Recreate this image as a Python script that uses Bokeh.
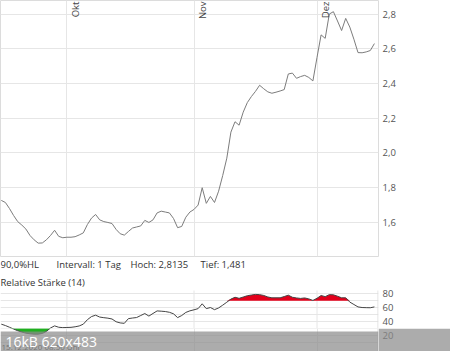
import numpy as np
import pandas as pd
from bokeh.plotting import figure
from bokeh.layouts import column
from bokeh.models import (Range1d, FixedTicker, CustomJSTickFormatter, Label,
                          BoxAnnotation)
from bokeh.core.properties import value
from bokeh.embed import file_html
from bokeh.resources import INLINE

# ---------------- data ----------------
dates = pd.date_range("2020-09-15", "2020-12-15", freq="D")

price = [
    1.727, 1.715, 1.68, 1.64, 1.605, 1.585, 1.562, 1.525, 1.50, 1.481,
    1.482, 1.50, 1.525, 1.555, 1.52, 1.512, 1.515, 1.515, 1.518, 1.528,
    1.54, 1.588, 1.625, 1.646, 1.615, 1.605, 1.60, 1.594, 1.56, 1.535,
    1.527, 1.548, 1.568, 1.574, 1.58, 1.612, 1.60, 1.615, 1.655, 1.665,
    1.66, 1.655, 1.623, 1.57, 1.577, 1.63, 1.66, 1.675, 1.70, 1.80,
    1.71, 1.75, 1.715, 1.78, 1.87, 1.97, 2.12, 2.18, 2.16, 2.235,
    2.29, 2.325, 2.355, 2.39, 2.37, 2.352, 2.344, 2.35, 2.357, 2.365,
    2.455, 2.46, 2.43, 2.44, 2.447, 2.435, 2.415, 2.55, 2.68, 2.66,
    2.80, 2.8135, 2.76, 2.705, 2.775, 2.725, 2.655, 2.578, 2.577, 2.582,
    2.59, 2.63,
]

rsi = [
    36, 34, 31.5, 28.9, 26.5, 24.5, 23, 22, 21.5, 21.5,
    22.5, 25.5, 30.5, 33.5, 31.5, 31, 31.2, 31.4, 32.2, 33.4,
    36, 42.5, 47, 49, 46.3, 45.4, 44.7, 43.5, 39.5, 37.8,
    37.2, 44.0, 44.9, 45.6, 48.5, 51.4, 47.7, 51.5, 55.2, 54.8,
    54.3, 53.2, 51, 45.5, 48.5, 53, 55.3, 56.8, 58.5, 65.5,
    58.5, 60.1, 57, 59.5, 63.5, 67.8, 72.3, 75.0, 73.4, 75.3,
    77.2, 78.2, 79.1, 78.8, 77.6, 75.4, 74.2, 74.2, 74.2, 76,
    78, 75, 74, 73.3, 74, 72.6, 70.4, 73.5, 77.5, 75.9,
    78.8, 78.5, 76.5, 74.2, 74.2, 68, 64.5, 61.0, 60.1, 59.9,
    59.8, 61,
]

month_starts = pd.to_datetime(["2020-10-01", "2020-11-01", "2020-12-01"])
month_labels = ["Okt", "Nov", "Dez"]
price_ticks = [1.6, 1.8, 2.0, 2.2, 2.4, 2.6, 2.8]
rsi_ticks = [20, 40, 60, 80]
rsi_grid_ticks = [10, 20, 30, 40, 50, 60, 70, 80]
rsi_upper, rsi_lower = 70, 30
info_texts = ["90,0%HL", "Intervall: 1 Tag", "Hoch: 2,8135", "Tief: 1,481"]
rsi_title = "Relative Stärke (14)"
stamp_text = "15.12.2020 08:50 Uhr"
size_text = "16kB 620x483"

# ---------------- layout constants (canvas pixels) ----------------
W = 450
FRAME_W = 378
A_H = 257            # price panel 0..257
T_H = 15             # info line 257..272
B_H = 56             # rsi panel 272..328
C_H = 23             # lower strip incl. overlay bar 328..351
B_Y0 = A_H + T_H     # 272
C_Y0 = B_Y0 + B_H    # 328
BAR_TOP_PX = 331
RSI_PANEL_TOP_PX = 290
Y80_PX = 293.3
RSI_PER_PX = 60 / 41.4

X0 = pd.Timestamp("2020-09-15") - pd.Timedelta(hours=4.7)
X1 = pd.Timestamp("2020-12-16")
PY0, PY1 = 1.404, 2.878

FONT = "Open Sans"
GRID = "#e6e6e6"
OUTLINE = "#dcdcdc"
TICK_COLOR = "#555555"
BAR_COLOR, BAR_ALPHA = "#8c8c8c", 0.72
BAR_BLEND = "#acacac"

x_ms0 = X0.value / 1e6
x_ms1 = X1.value / 1e6


def x_at(px):
    return x_ms0 + px / FRAME_W * (x_ms1 - x_ms0)


def rsi_y_at(py):
    return 80 - (py - Y80_PX) * RSI_PER_PX


xr = Range1d(start=x_ms0, end=x_ms1)
month_ms = [t.value / 1e6 for t in month_starts]
comma_fmt = CustomJSTickFormatter(code="return tick.toFixed(1).replace('.', ',');")


def base_fig(height, y_range, axis):
    f = figure(width=W, height=height, x_axis_type="datetime", x_range=xr,
               y_range=y_range, y_axis_location="right" if axis else None,
               x_axis_location=None, toolbar_location=None, output_backend="svg",
               min_border_left=0, min_border_right=W - FRAME_W,
               min_border_top=0, min_border_bottom=0)
    f.outline_line_color = None
    if axis:
        a = f.yaxis[0]
        a.axis_line_color = None
        a.major_tick_line_color = None
        a.minor_tick_line_color = None
        a.major_tick_out = 0
        a.major_tick_in = 0
        a.major_label_standoff = 4
        a.major_label_text_font = FONT
        a.major_label_text_font_size = "9.5px"
        a.major_label_text_color = TICK_COLOR
    for g in f.grid:
        g.grid_line_color = GRID
        g.grid_line_width = 1
    return f


# ---------------- price panel ----------------
pa = base_fig(A_H, Range1d(PY0, PY1), True)
pa.min_border_bottom = 1
pa.outline_line_color = OUTLINE
pa.xgrid.ticker = FixedTicker(ticks=month_ms)
pa.ygrid.ticker = FixedTicker(ticks=price_ticks)
pa.yaxis[0].ticker = FixedTicker(ticks=price_ticks)
pa.yaxis[0].formatter = comma_fmt

pa.line(dates, price, line_color="#7c7c7c", line_width=1)
pa.text(x=month_starts, y=[PY1] * len(month_starts), text=month_labels,
        angle=np.pi / 2, text_align="right", text_baseline="top",
        x_offset=2, y_offset=1, text_font=value(FONT),
        text_font_size="9.5px", text_color="#444444")

# ---------------- info line ----------------
pt = base_fig(T_H, Range1d(0, T_H), False)
pt.xgrid.visible = False
pt.ygrid.visible = False
info_px = [0, 56, 130, 200]
for txt, px in zip(info_texts, info_px):
    pt.add_layout(Label(x=x_at(px), y=B_Y0 - 263.5, text=txt,
                        text_align="left", text_baseline="middle",
                        text_font=FONT, text_font_size="9.5px",
                        text_color="#333333"))

# ---------------- rsi panel ----------------
pb = base_fig(B_H, Range1d(rsi_y_at(C_Y0), rsi_y_at(B_Y0)), True)
pb.xgrid.visible = False
pb.ygrid.ticker = FixedTicker(ticks=rsi_grid_ticks)
pb.yaxis[0].ticker = FixedTicker(ticks=[t for t in rsi_ticks if t > 20])
panel_top = rsi_y_at(RSI_PANEL_TOP_PX)
panel_bot = rsi_y_at(C_Y0)
pb.segment(x0=month_ms, x1=month_ms, y0=[panel_bot] * len(month_ms),
           y1=[panel_top] * len(month_ms), line_color=GRID, line_width=1)
pb.segment(x0=[x_at(FRAME_W - 0.5)], x1=[x_at(FRAME_W - 0.5)], y0=[panel_bot],
           y1=[panel_top], line_color=OUTLINE, line_width=1)

rsi_arr = np.array(rsi, dtype=float)
upper_fill = dict(x=dates, y1=np.full(len(rsi_arr), rsi_upper),
                  y2=np.maximum(rsi_arr, rsi_upper))
lower_fill = dict(x=dates, y1=np.minimum(rsi_arr, rsi_lower),
                  y2=np.full(len(rsi_arr), rsi_lower))
pb.varea(fill_color="#e3001b", **upper_fill)
pb.varea(fill_color="#1faf1f", **lower_fill)
pb.line(dates, rsi, line_color="#444444", line_width=1)
pb.add_layout(Label(x=x_at(0), y=rsi_y_at(282), text=rsi_title,
                    text_align="left", text_baseline="middle",
                    text_font=FONT, text_font_size="9.5px",
                    text_color="#333333"))

# ---------------- lower strip with the thumbnail overlay bar ----------------
pc = base_fig(C_H, Range1d(rsi_y_at(351), rsi_y_at(C_Y0)), True)
pc.border_fill_color = BAR_BLEND
pc.xgrid.ticker = FixedTicker(ticks=month_ms)
pc.ygrid.ticker = FixedTicker(ticks=rsi_grid_ticks)
pc.yaxis[0].ticker = FixedTicker(ticks=[20])
pc.yaxis[0].major_label_text_color = "#7d7d7d"
pc.varea(fill_color="#1faf1f", **lower_fill)
pc.line(dates, rsi, line_color="#444444", line_width=1)
pc.segment(x0=[x_at(FRAME_W - 0.5)], x1=[x_at(FRAME_W - 0.5)],
           y0=[rsi_y_at(351)], y1=[rsi_y_at(C_Y0)], line_color=OUTLINE, line_width=1)
pc.add_layout(Label(x=x_at(1), y=rsi_y_at(346), text=stamp_text,
                    text_align="left", text_baseline="middle",
                    text_font=FONT, text_font_size="8px",
                    text_color="#333333"))
pc.add_layout(BoxAnnotation(top=rsi_y_at(BAR_TOP_PX), fill_color=BAR_COLOR,
                            fill_alpha=BAR_ALPHA, line_color=None))
pc.add_layout(Label(x=x_at(5), y=rsi_y_at(340.5), text=size_text,
                    text_align="left", text_baseline="middle",
                    text_font=FONT, text_font_size="14px",
                    text_color="#ffffff"))

p = column(pa, pt, pb, pc)
open("out.html", "w").write(file_html(p, INLINE))
